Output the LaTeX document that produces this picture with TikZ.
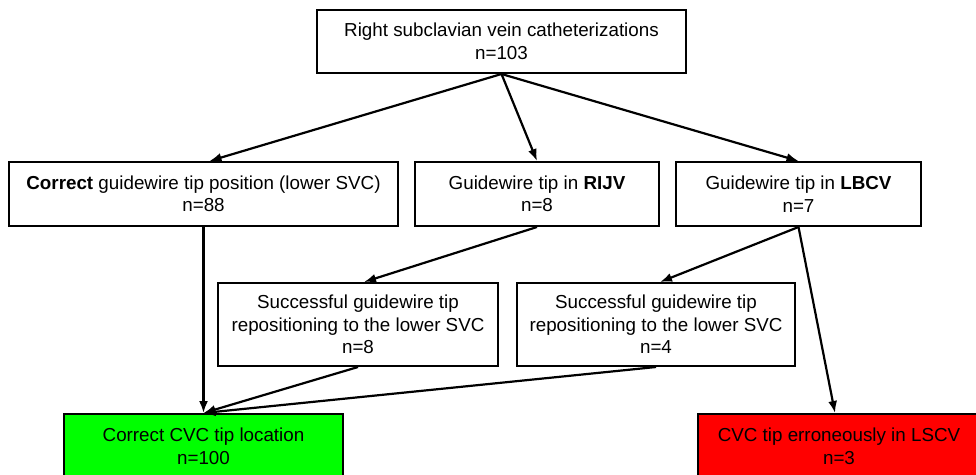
\documentclass[tikz,border=0pt]{standalone}
\usepackage{fontspec}
\setmainfont{Liberation Sans}
\usepackage{xcolor}
\usetikzlibrary{shapes.geometric, arrows.meta}
\definecolor{okgreen}{RGB}{0,255,0}
\definecolor{badred}{RGB}{255,0,0}

\begin{document}
\begin{tikzpicture}[x=1pt,y=-1pt,
    stage/.style={draw, line width=2pt, rectangle, align=center, inner sep=0pt,
      font=\fontsize{18.8}{22.5}\selectfont},
    flow/.style={-{Latex[length=12pt,width=9pt]}, line width=2.2pt}]
           \clip (0,0) rectangle (976,474);
           \node[stage, minimum width=369, minimum height=63](rscv)  at (501.5,41.5) {Right subclavian vein catheterizations\\n=103};
           \node[stage, minimum width=389, minimum height=64](lowsvc)  at (203.5,194) {\textbf{Correct} guidewire tip position (lower SVC)\\n=88};
          \node[stage, minimum width=244, minimum height=64](rijv)  at (537,194) {Guidewire tip in \textbf{RIJV}\\n=8};
          \node[stage, minimum width=245, minimum height=64](lbcv)  at (798.5,194) {Guidewire tip in \textbf{LBCV}\\n=7};
      \node[stage, minimum width=280, minimum height=83](reprijv)  at (358,324.5) {Successful guidewire tip\\repositioning to the lower SVC\\n=8};
      \node[stage, minimum width=278, minimum height=83](replbcv)  at (656,324.5) {Successful guidewire tip\\repositioning to the lower SVC\\n=4};
      \node[stage, fill=okgreen, minimum width=279, minimum height=65](cvcok)  at (203.5,446.5) {Correct CVC tip location\\n=100};
      \node[stage, fill=badred, minimum width=282, minimum height=65](cvclscv)  at (839,446.5) {CVC tip erroneously in LSCV\\n=3};
      \draw[flow] (rscv.south) -- ([xshift=6pt]lowsvc.north);
      \draw[flow] (rscv.south) -- (rijv.north);
      \draw[flow] (rscv.south) -- (lbcv.north);
       \draw[flow] (lowsvc.south) -- (cvcok.north);
        \draw[flow] (rijv.south) -- ([xshift=6pt]reprijv.north);
        \draw[flow] (lbcv.south) -- ([xshift=4pt]replbcv.north);
        \draw[flow] (lbcv.south) -- ([xshift=-4pt]cvclscv.north);
        \draw[flow] (reprijv.south) -- (cvcok.north);
        \draw[flow] (replbcv.south) -- (cvcok.north);
          \end{tikzpicture}
\end{document}
